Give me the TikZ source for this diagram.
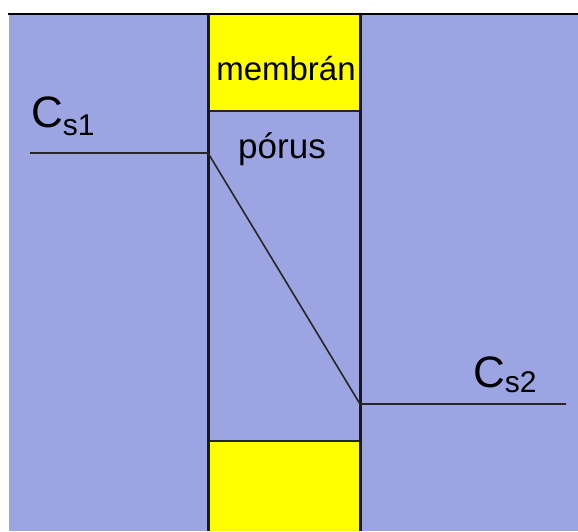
\documentclass[tikz,border=0pt]{standalone}
\usepackage{fontspec}
\setmainfont{Liberation Sans}
\definecolor{bgblue}{RGB}{156,165,226}
\definecolor{memyellow}{RGB}{255,255,0}
\begin{document}
\begin{tikzpicture}[x=1pt,y=-1pt,
  thickline/.style={line width=3pt,black!90},
  thinline/.style={line width=1.6pt,black!85},
  lbl/.style={inner sep=0pt,anchor=base}]
\useasboundingbox (0,0) rectangle (578,531);
\fill[white] (0,0) rectangle (578,531);
\fill[bgblue] (9,14) rectangle (578,531);
\fill[memyellow] (208,14) rectangle (360,111);
\fill[memyellow] (208,441) rectangle (360,531);
\draw[line width=2.5pt] (8,14) -- (578,14);
\draw[thinline] (208,111) -- (360,111);
\draw[thinline] (208,441) -- (360,441);
\draw[thickline] (208,14) -- (208,531);
\draw[thickline] (360,14) -- (360,531);
\coordinate (a1) at (30,153);
\coordinate (a2) at (208,153);
\coordinate (b1) at (360,404);
\coordinate (b2) at (566,404);
\draw[thinline] (a1) -- (a2) -- (b1) -- (b2);
\node[lbl,font=\fontsize{33}{33}\selectfont] (mem) at (286,80) {membrán};
\node[lbl,font=\fontsize{35}{35}\selectfont] (por) at (282,158) {pórus};
\node[lbl,anchor=base west,font=\fontsize{44}{44}\selectfont] (cs1) at (31,127) {C\raisebox{-8pt}{\fontsize{30}{30}\selectfont s1}};
\node[lbl,anchor=base west,font=\fontsize{44}{44}\selectfont] (cs2) at (473,387) {C\raisebox{-5pt}{\fontsize{30}{30}\selectfont s2}};
\end{tikzpicture}
\end{document}
